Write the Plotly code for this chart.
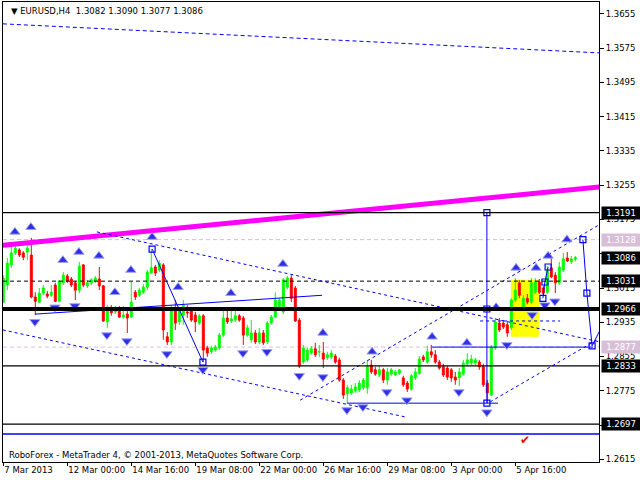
import plotly.graph_objects as go

# ---------------- data (EURUSD H4) ----------------
open_ = [1.2982, 1.3022, 1.3069, 1.3097, 1.3104, 1.3097, 1.3099, 1.3092, 1.2994, 1.2982,
         1.3003, 1.3001, 1.2998, 1.3022, 1.2984, 1.3027, 1.3043, 1.3036, 1.3027, 1.3010,
         1.3069, 1.3020, 1.3027, 1.3031, 1.3036, 1.3020, 1.2936, 1.2970, 1.2959, 1.2968,
         1.2947, 1.2954, 1.2947, 1.3005, 1.2998, 1.3005, 1.3017, 1.3050, 1.3064, 1.3057,
         1.3069, 1.2901, 1.2889, 1.2968, 1.2936, 1.2952, 1.2959, 1.2964, 1.2952, 1.2933,
         1.2950, 1.2875, 1.2866, 1.2870, 1.2875, 1.2905, 1.2945, 1.2938, 1.2940, 1.2950,
         1.2945, 1.2905, 1.2894, 1.2910, 1.2889, 1.2910, 1.2889, 1.2933, 1.2947, 1.2970,
         1.2959, 1.3017, 1.3038, 1.3015, 1.2940, 1.2842, 1.2847, 1.2863, 1.2873, 1.2866,
         1.2863, 1.2852, 1.2854, 1.2856, 1.2847, 1.2800, 1.2768, 1.2770, 1.2775, 1.2777,
         1.2782, 1.2782, 1.2835, 1.2824, 1.2812, 1.2824, 1.2800, 1.2814, 1.2812, 1.2816,
         1.2805, 1.2793, 1.2779, 1.2805, 1.2816, 1.2854, 1.2842, 1.2866, 1.2859, 1.2842,
         1.2831, 1.2828, 1.2824, 1.2807, 1.2805, 1.2814, 1.2838, 1.2840, 1.2840, 1.2842,
         1.2831, 1.2793, 1.2765, 1.2875, 1.2933, 1.2933, 1.2929, 1.2922, 1.2987, 1.3027,
         1.2970, 1.2991, 1.2982, 1.3005, 1.3029, 1.3015, 1.3005, 1.3062, 1.3045, 1.3027,
         1.3057, 1.3085, 1.3076, 1.3082]
high_ = [1.3045, 1.3085, 1.3111, 1.3120, 1.3108, 1.3101, 1.3115, 1.3132, 1.3005, 1.3015,
         1.3022, 1.3008, 1.3022, 1.3027, 1.3034, 1.3052, 1.3048, 1.3041, 1.3031, 1.3076,
         1.3071, 1.3034, 1.3038, 1.3043, 1.3064, 1.3022, 1.2975, 1.2975, 1.2973, 1.2973,
         1.2973, 1.2961, 1.3029, 1.3010, 1.3015, 1.3024, 1.3057, 1.3106, 1.3069, 1.3080,
         1.3073, 1.2912, 1.2975, 1.2987, 1.2968, 1.2987, 1.2975, 1.2968, 1.2959, 1.2954,
         1.2954, 1.2880, 1.2880, 1.2882, 1.2910, 1.2970, 1.2970, 1.2970, 1.2968, 1.2954,
         1.2950, 1.2929, 1.2940, 1.2917, 1.2922, 1.2917, 1.2938, 1.2952, 1.3005, 1.2991,
         1.3038, 1.3043, 1.3045, 1.3020, 1.2945, 1.2882, 1.2875, 1.2880, 1.2887, 1.2882,
         1.2889, 1.2866, 1.2870, 1.2861, 1.2852, 1.2805, 1.2789, 1.2789, 1.2793, 1.2800,
         1.2805, 1.2847, 1.2847, 1.2831, 1.2833, 1.2828, 1.2828, 1.2828, 1.2824, 1.2826,
         1.2810, 1.2798, 1.2814, 1.2828, 1.2856, 1.2859, 1.2880, 1.2882, 1.2870, 1.2847,
         1.2838, 1.2833, 1.2828, 1.2819, 1.2828, 1.2847, 1.2863, 1.2859, 1.2852, 1.2847,
         1.2838, 1.2800, 1.2882, 1.2945, 1.2945, 1.2940, 1.2936, 1.2991, 1.3038, 1.3034,
         1.2998, 1.3001, 1.3038, 1.3038, 1.3036, 1.3020, 1.3066, 1.3085, 1.3052, 1.3076,
         1.3097, 1.3099, 1.3090, 1.3090]
low_ = [1.2980, 1.3010, 1.3062, 1.3092, 1.3087, 1.3080, 1.3080, 1.2991, 1.2952, 1.2980,
        1.2998, 1.2991, 1.2994, 1.2982, 1.2982, 1.3022, 1.3027, 1.3017, 1.2987, 1.3003,
        1.3017, 1.3015, 1.3022, 1.3027, 1.3010, 1.2936, 1.2922, 1.2950, 1.2954, 1.2945,
        1.2943, 1.2910, 1.2945, 1.2987, 1.2994, 1.3001, 1.3010, 1.3048, 1.3043, 1.3052,
        1.2894, 1.2882, 1.2882, 1.2917, 1.2929, 1.2929, 1.2945, 1.2936, 1.2912, 1.2929,
        1.2842, 1.2854, 1.2861, 1.2866, 1.2870, 1.2901, 1.2931, 1.2933, 1.2936, 1.2936,
        1.2882, 1.2901, 1.2887, 1.2884, 1.2884, 1.2882, 1.2884, 1.2929, 1.2945, 1.2966,
        1.2954, 1.3012, 1.2982, 1.2936, 1.2828, 1.2838, 1.2842, 1.2859, 1.2854, 1.2854,
        1.2828, 1.2847, 1.2849, 1.2838, 1.2796, 1.2756, 1.2746, 1.2765, 1.2770, 1.2772,
        1.2777, 1.2768, 1.2814, 1.2810, 1.2807, 1.2793, 1.2789, 1.2810, 1.2810, 1.2812,
        1.2784, 1.2772, 1.2775, 1.2800, 1.2812, 1.2842, 1.2838, 1.2852, 1.2838, 1.2824,
        1.2807, 1.2800, 1.2796, 1.2789, 1.2786, 1.2810, 1.2833, 1.2835, 1.2835, 1.2824,
        1.2784, 1.2746, 1.2763, 1.2870, 1.2912, 1.2919, 1.2901, 1.2917, 1.2982, 1.2991,
        1.2964, 1.2977, 1.2977, 1.3001, 1.3001, 1.2998, 1.3001, 1.3038, 1.3003, 1.3022,
        1.3052, 1.3076, 1.3071, 1.3077]
close_ = [1.3038, 1.3073, 1.3097, 1.3108, 1.3092, 1.3087, 1.3108, 1.2994, 1.2984, 1.3003,
          1.3015, 1.2996, 1.3005, 1.2984, 1.3031, 1.3045, 1.3031, 1.3022, 1.3010, 1.3066,
          1.3022, 1.3027, 1.3034, 1.3038, 1.3020, 1.2938, 1.2970, 1.2957, 1.2968, 1.2947,
          1.2952, 1.2945, 1.2982, 1.2994, 1.3010, 1.3017, 1.3052, 1.3062, 1.3050, 1.3073,
          1.2917, 1.2889, 1.2964, 1.2933, 1.2964, 1.2975, 1.2957, 1.2940, 1.2936, 1.2950,
          1.2870, 1.2863, 1.2875, 1.2877, 1.2905, 1.2945, 1.2936, 1.2943, 1.2950, 1.2940,
          1.2905, 1.2922, 1.2910, 1.2889, 1.2910, 1.2887, 1.2933, 1.2947, 1.2987, 1.2987,
          1.3034, 1.3038, 1.2991, 1.2938, 1.2833, 1.2875, 1.2870, 1.2873, 1.2859, 1.2866,
          1.2849, 1.2859, 1.2863, 1.2842, 1.2800, 1.2765, 1.2782, 1.2779, 1.2784, 1.2793,
          1.2800, 1.2831, 1.2819, 1.2814, 1.2824, 1.2800, 1.2819, 1.2824, 1.2819, 1.2824,
          1.2789, 1.2779, 1.2810, 1.2819, 1.2849, 1.2847, 1.2866, 1.2859, 1.2842, 1.2828,
          1.2812, 1.2807, 1.2805, 1.2800, 1.2819, 1.2840, 1.2847, 1.2849, 1.2847, 1.2831,
          1.2789, 1.2770, 1.2877, 1.2936, 1.2917, 1.2924, 1.2910, 1.2987, 1.3010, 1.2998,
          1.2991, 1.2982, 1.3027, 1.3029, 1.3005, 1.3003, 1.3057, 1.3041, 1.3027, 1.3064,
          1.3083, 1.3078, 1.3083, 1.3086]
bars = list(range(len(close_)))

x_tick_bars = [0, 16, 32, 48, 64, 80, 96, 112, 128]
x_tick_labels = ["7 Mar 2013", "12 Mar 00:00", "14 Mar 16:00", "19 Mar 08:00", "22 Mar 00:00",
                 "26 Mar 16:00", "29 Mar 08:00", "3 Apr 00:00", "5 Apr 16:00"]
y_tick_values = [1.2615, 1.2695, 1.2775, 1.2855, 1.2935, 1.3015, 1.3095, 1.3175,
                 1.3255, 1.3335, 1.3415, 1.3495, 1.3575, 1.3655]
y_tick_labels = ["1.2615", "", "1.2775", "1.2855", "1.2935", "1.3015", "", "1.3175",
                 "1.3255", "1.3335", "1.3415", "1.3495", "1.3575", "1.3655"]

# horizontal levels
solid_levels = [1.3191, 1.2833, 1.2697]
dashed_black_levels = [1.3031]
thick_levels = [1.2966]
pink_levels = [1.3128, 1.2877]
blue_levels = [1.2674]
black_labels = [1.3191, 1.3086, 1.3031, 1.2966, 1.2833, 1.2697]
pink_labels = [1.3128, 1.2877]

# trend lines (bar index, price)
top_dash_x, top_dash_y = [-0.1, 149.2], [1.3632, 1.3564]
magenta_x, magenta_y = [-0.1, 149.2], [1.3115, 1.3251]
dashed_lines = [
    ([23.4, 149.2], [1.3146, 1.2889]),
    ([-0.1, 100.4], [1.2917, 1.2714]),
    ([74.2, 149.2], [1.2753, 1.3164]),
    ([121.7, 149.2], [1.2749, 1.2898]),
    ([119.2, 139.2], [1.2938, 1.2938]),
]
solid_lines = [
    ([7.9, 79.7], [1.2954, 1.2998]),
    ([37.2, 49.9], [1.3106, 1.2842]),
    ([120.9, 120.9], [1.3191, 1.2746]),
    ([107.2, 147.4], [1.2877, 1.2877]),
    ([85.9, 123.7], [1.2746, 1.2746]),
    ([134.9, 135.4, 136.2], [1.2991, 1.3029, 1.3064]),
    ([144.9, 145.9, 147.2, 149.2], [1.3128, 1.3003, 1.2880, 1.2917]),
]
square_x = [37.2, 49.9, 120.9, 120.9, 120.9, 134.9, 135.4, 136.2, 144.9, 145.9, 147.2]
square_y = [1.3106, 1.2842, 1.3191, 1.2966, 1.2746, 1.2991, 1.3029, 1.3064, 1.3128, 1.3003, 1.2880]

up_arrow_x = [2.9, 6.9, 14.9, 18.9, 23.9, 27.9, 31.9, 37.2, 43.7, 56.9, 69.9, 79.9,
              92.2, 107.2, 115.9, 123.2, 128.2, 133.2, 136.2, 140.9]
up_arrow_y = [1.3146, 1.3157, 1.3080, 1.3099, 1.3090, 1.3005, 1.3057, 1.3134, 1.3017, 1.3003,
              1.3071, 1.2910, 1.2866, 1.2901, 1.2887, 1.2970, 1.3062, 1.3062, 1.3090, 1.3128]
down_arrow_x = [7.9, 12.9, 17.9, 25.9, 30.9, 40.9, 49.9, 59.9, 65.9, 74.0, 79.9,
                85.9, 89.9, 95.9, 100.9, 113.9, 120.9, 125.9, 132.2, 135.4, 137.9]
down_arrow_y = [1.2936, 1.2970, 1.2973, 1.2905, 1.2891, 1.2861, 1.2824, 1.2863, 1.2866, 1.2810, 1.2807,
                1.2730, 1.2737, 1.2772, 1.2753, 1.2772, 1.2725, 1.2882, 1.2952, 1.2975, 1.2984]

yellow_box = (126.9, 133.9, 1.2901, 1.3034)
check_pos = (130.4, 1.2660)

FONT = "DejaVu Sans"

fig = go.Figure()
fig.add_shape(type="rect", xref="x", yref="y", x0=yellow_box[0], x1=yellow_box[1],
              y0=yellow_box[2], y1=yellow_box[3], fillcolor="#FFFF00", line_width=0, layer="below")

fig.add_trace(go.Candlestick(
    x=bars, open=open_, high=high_, low=low_, close=close_,
    increasing=dict(line=dict(color="#00FF00", width=1), fillcolor="#00FF00"),
    decreasing=dict(line=dict(color="#FF0000", width=1), fillcolor="#FF0000"),
    whiskerwidth=0, showlegend=False, hoverinfo="skip"))

def line(xs, ys, color, width=1, dash="solid"):
    fig.add_trace(go.Scatter(x=xs, y=ys, mode="lines", line=dict(color=color, width=width, dash=dash),
                             showlegend=False, hoverinfo="skip"))

line(top_dash_x, top_dash_y, "#0000FF", 1, "4px,3px")
line(magenta_x, magenta_y, "#FF00FF", 5)
for xs, ys in dashed_lines:
    line(xs, ys, "#0000FF", 1, "3px,3px")
for xs, ys in solid_lines:
    line(xs, ys, "#0000FF", 1)

for lv in solid_levels:
    fig.add_shape(type="line", xref="paper", yref="y", x0=0, x1=1, y0=lv, y1=lv,
                  line=dict(color="black", width=1.3), layer="above")
for lv in dashed_black_levels:
    fig.add_shape(type="line", xref="paper", yref="y", x0=0, x1=1, y0=lv, y1=lv,
                  line=dict(color="black", width=1, dash="4px,3px"), layer="above")
for lv in thick_levels:
    fig.add_shape(type="line", xref="paper", yref="y", x0=0, x1=1, y0=lv, y1=lv,
                  line=dict(color="black", width=4), layer="above")
for lv in pink_levels:
    fig.add_shape(type="line", xref="paper", yref="y", x0=0, x1=1, y0=lv, y1=lv,
                  line=dict(color="#D8BFD8", width=1, dash="4px,3px"), layer="below")
for lv in blue_levels:
    fig.add_shape(type="line", xref="paper", yref="y", x0=0, x1=1, y0=lv, y1=lv,
                  line=dict(color="#0000FF", width=1.3), layer="above")

fig.add_trace(go.Scatter(x=up_arrow_x, y=up_arrow_y, mode="markers", showlegend=False, hoverinfo="skip",
                         marker=dict(symbol="triangle-up", size=9, color="#3030E0",
                                     line=dict(color="#A0A0FF", width=1))))
fig.add_trace(go.Scatter(x=down_arrow_x, y=down_arrow_y, mode="markers", showlegend=False, hoverinfo="skip",
                         marker=dict(symbol="triangle-down", size=9, color="#3030E0",
                                     line=dict(color="#A0A0FF", width=1))))
fig.add_trace(go.Scatter(x=square_x, y=square_y, mode="markers", showlegend=False, hoverinfo="skip",
                         marker=dict(symbol="square-open", size=6, color="#0000FF", line=dict(width=1.2))))

annotations = []
for lv in black_labels:
    annotations.append(dict(xref="paper", yref="y", x=1, y=lv, xanchor="left", yanchor="middle",
                            xshift=2, text=f"{lv:.4f}", showarrow=False, bgcolor="black",
                            font=dict(color="white", size=8.5, family=FONT), borderpad=1, width=36))
for lv in pink_labels:
    annotations.append(dict(xref="paper", yref="y", x=1, y=lv, xanchor="left", yanchor="middle",
                            xshift=2, text=f"{lv:.4f}", showarrow=False, bgcolor="#D8BFD8",
                            font=dict(color="white", size=8.5, family=FONT), borderpad=1, width=36))
annotations.append(dict(xref="paper", yref="paper", x=0.01, y=0.98, xanchor="left", yanchor="middle",
                        text="▼ EURUSD,H4  1.3082 1.3090 1.3077 1.3086", showarrow=False,
                        font=dict(color="black", size=8.5, family=FONT)))
annotations.append(dict(xref="paper", yref="paper", x=0.006, y=0.016, xanchor="left", yanchor="middle",
                        text="RoboForex - MetaTrader 4, © 2001-2013, MetaQuotes Software Corp.",
                        showarrow=False, font=dict(color="black", size=8.5, family=FONT)))
annotations.append(dict(xref="x", yref="y", x=check_pos[0], y=check_pos[1], text="✔", showarrow=False,
                        font=dict(color="#FF0000", size=12, family=FONT)))

fig.update_layout(
    width=640, height=480,
    margin=dict(l=3, r=41, t=2, b=18, autoexpand=False),
    paper_bgcolor="white", plot_bgcolor="white",
    font=dict(family=FONT, size=8.5, color="black"),
    annotations=annotations,
    xaxis=dict(range=[-0.075, 148.925], rangeslider=dict(visible=False), showgrid=False, zeroline=False,
               tickmode="array", tickvals=x_tick_bars, ticktext=x_tick_labels, tickangle=0,
               ticks="outside", ticklen=3, tickcolor="black", ticklabelposition="outside right",
               showline=True, linecolor="black", linewidth=1, mirror=True, automargin=False,
               tickfont=dict(family=FONT, size=8.5, color="black")),
    yaxis=dict(range=[1.26086, 1.3683], side="right", showgrid=False, zeroline=False,
               tickmode="array", tickvals=y_tick_values, ticktext=y_tick_labels,
               ticks="outside", ticklen=4, tickcolor="black", automargin=False,
               showline=True, linecolor="black", linewidth=1, mirror=True,
               tickfont=dict(family=FONT, size=8.5, color="black")),
)

fig.write_html("out.html", config={"displayModeBar": False},
               post_script="document.body.style.margin='0';document.body.style.overflow='hidden';")
